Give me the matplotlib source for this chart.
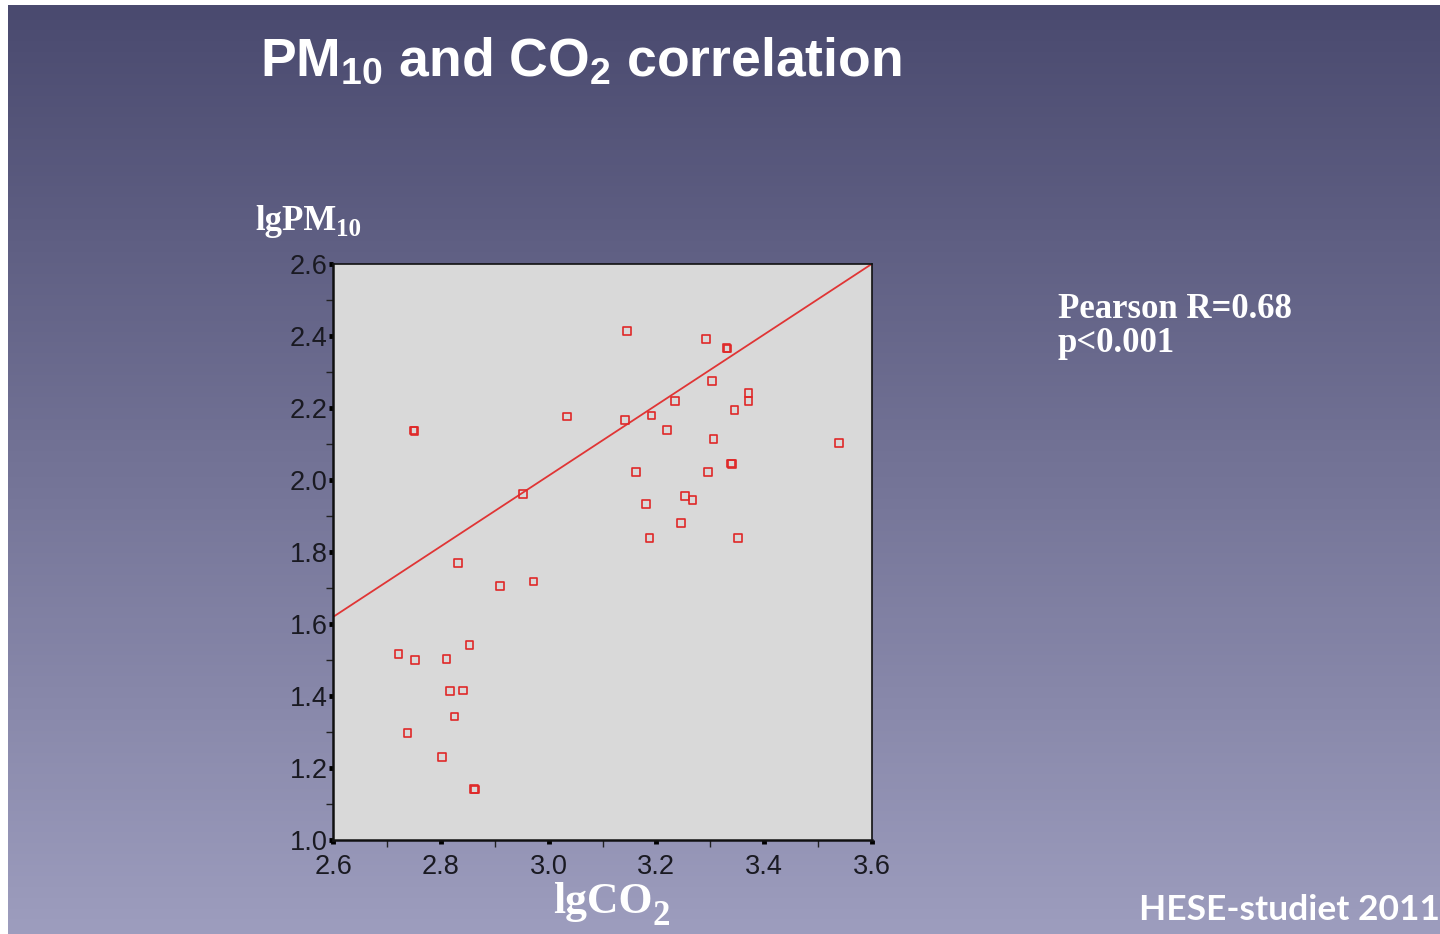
import numpy as np
import matplotlib
matplotlib.use('Agg')
import matplotlib.pyplot as plt
from matplotlib.colors import LinearSegmentedColormap
from matplotlib.ticker import MultipleLocator

# lgCO2 / lgPM10 pairs (log10 of the measured concentrations)
lg_co2 = [2.749, 2.751, 3.034, 2.952, 2.832, 2.910, 2.972,
          3.145, 3.292, 3.330, 3.332, 3.303, 3.235, 3.371, 3.371,
          3.345, 3.142, 3.191, 3.220, 3.306, 3.539, 3.162, 3.296,
          3.339, 3.341, 3.253, 3.267, 3.181, 3.246, 3.187, 3.352,
          2.721, 2.752, 2.810, 2.853, 2.817, 2.841, 2.825, 2.738,
          2.802, 2.861, 2.863]
lg_pm10 = [2.138, 2.136, 2.176, 1.961, 1.770, 1.706, 1.718,
           2.414, 2.392, 2.367, 2.365, 2.275, 2.219, 2.241, 2.219,
           2.194, 2.166, 2.179, 2.139, 2.114, 2.103, 2.022, 2.022,
           2.046, 2.044, 1.955, 1.945, 1.934, 1.881, 1.839, 1.839,
           1.517, 1.500, 1.502, 1.541, 1.414, 1.415, 1.343, 1.297,
           1.231, 1.142, 1.140]

# least squares fit line, end points at the axis limits
fit_x = [2.6, 3.6]
fit_y = [1.62, 2.6]

x_ticks = [2.6, 2.8, 3.0, 3.2, 3.4, 3.6]
y_ticks = [1.0, 1.2, 1.4, 1.6, 1.8, 2.0, 2.2, 2.4, 2.6]

title = 'PM$_{10}$ and CO$_{2}$ correlation'
stats_lines = ['Pearson R=0.68', 'p<0.001']
source = 'HESE-studiet 2011'

W, H = 1440, 934
plt.rcParams['mathtext.default'] = 'regular'

fig = plt.figure(figsize=(W / 100, H / 100), dpi=100)
fig.patch.set_facecolor('white')
renderer = fig.canvas.get_renderer()

# slide background: vertical gradient, dark at the top
bg = fig.add_axes([8 / W, 0, 1 - 8 / W, 1 - 5 / H])
bg.set_axis_off()
cmap = LinearSegmentedColormap.from_list('slide', ['#4a4a6f', '#9d9dbe'])
grad = np.linspace(0, 1, 256).reshape(-1, 1)
bg.imshow(grad, cmap=cmap, aspect='auto', extent=[0, 1, 0, 1], origin='upper')


def px(x, y):
    """pixel position (from top left) to figure fraction"""
    return x / W, 1 - y / H


def sub_label(x, y, base, sub, size, sub_scale, drop):
    """serif label with a dropped subscript; x, y in pixels, y = baseline"""
    fx, fy = px(x, y)
    t = fig.text(fx, fy, base, fontsize=size, fontweight='bold', color='white',
                 family='Liberation Serif', ha='left', va='baseline')
    right = t.get_window_extent(renderer).x1
    sx, sy = px(right + 1, y + drop)
    fig.text(right / W, sy, sub, fontsize=size * sub_scale, fontweight='bold',
             color='white', family='Liberation Serif', ha='left', va='baseline')


# scatter panel
ax = fig.add_axes([333.3 / W, 1 - 840 / H, 538.4 / W, 576 / H])
ax.set_facecolor('#d9d9d9')
ax.scatter(lg_co2, lg_pm10, marker='s', s=30, facecolors='none',
           edgecolors='#e02828', linewidths=1.2, zorder=3)
ax.plot(fit_x, fit_y, color='#e03535', lw=1.3, zorder=2)

ax.set_xlim(2.6, 3.6)
ax.set_ylim(1.0, 2.6)
ax.set_xticks(x_ticks)
ax.set_yticks(y_ticks)
ax.set_xticklabels([f'{v:.1f}' for v in x_ticks])
ax.set_yticklabels([f'{v:.1f}' for v in y_ticks])
ax.xaxis.set_minor_locator(MultipleLocator(0.1))
ax.yaxis.set_minor_locator(MultipleLocator(0.1))
ax.tick_params(which='major', direction='out', length=3, width=3.5,
               color='black', labelsize=19.5, labelcolor='#1a1a22',
               labelfontfamily='Liberation Sans')
ax.tick_params(axis='x', which='major', pad=7)
ax.tick_params(axis='y', which='major', pad=1)
ax.tick_params(which='minor', direction='out', length=5, width=1,
               color='#222222')
for side in ['top', 'right']:
    ax.spines[side].set_linewidth(1.2)
for side in ['left', 'bottom']:
    ax.spines[side].set_linewidth(1.8)
for side in ax.spines:
    ax.spines[side].set_color('#111111')

# titles and labels
x, y = px(260, 76)
fig.text(x, y, title, fontsize=38.5, fontweight='bold', color='white',
         family='Liberation Sans', ha='left', va='baseline')

sub_label(255, 230, 'lgPM', '10', 25, 0.72, 6)
sub_label(553, 913, 'lgCO', '2', 31.5, 0.8, 12)

for i, line in enumerate(stats_lines):
    x, y = px(1058, 318 + 34 * i)
    fig.text(x, y, line, fontsize=25, fontweight='bold', color='white',
             family='Liberation Serif', ha='left', va='baseline')

x, y = px(1440, 920)
fig.text(x, y, source, fontsize=25.5, fontweight='bold', color='white',
         family='Lato', ha='right', va='baseline')

fig.savefig('out.png', dpi=100)
